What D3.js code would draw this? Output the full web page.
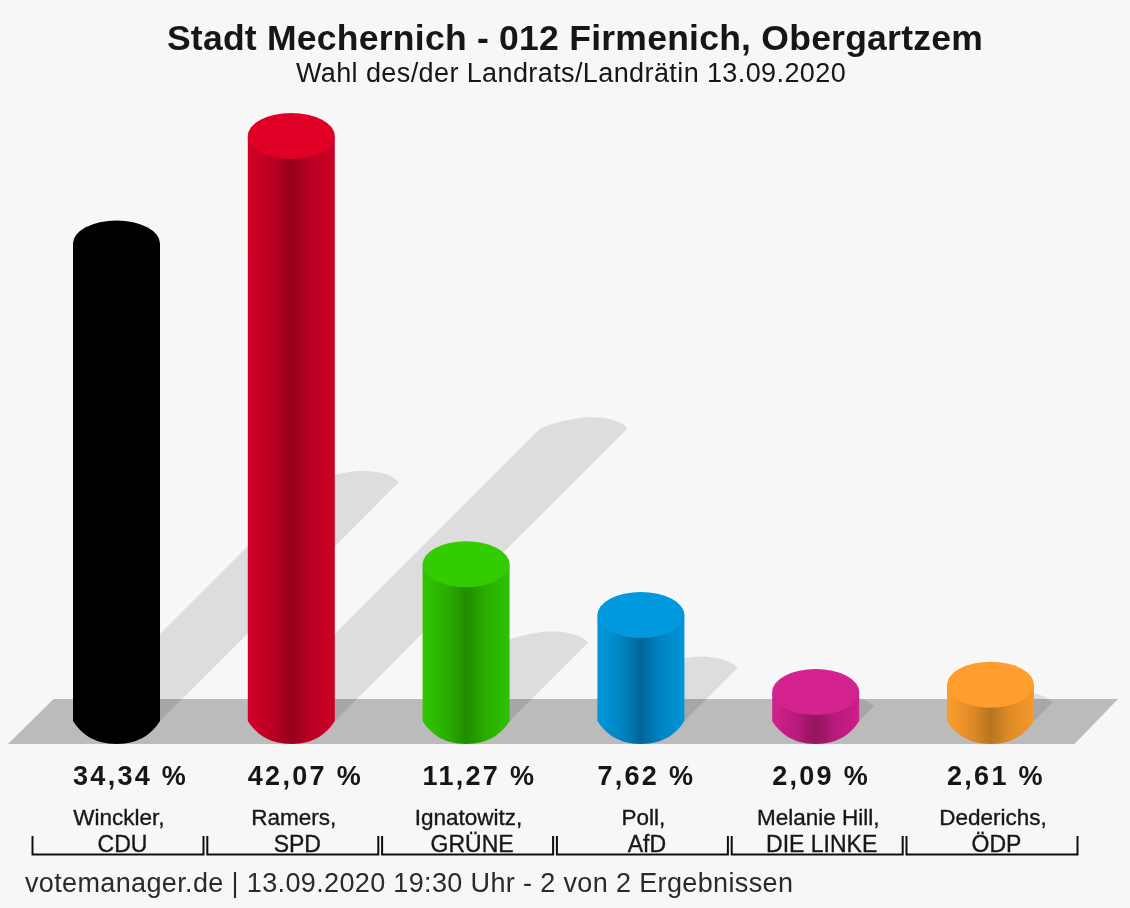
<!DOCTYPE html>
<html><head><meta charset="utf-8">
<script src="https://cdn.jsdelivr.net/npm/d3@7"></script>
<style>html,body{margin:0;padding:0;background:#f7f7f7}svg{display:block}text{font-family:"Liberation Sans",Arial,sans-serif;fill:#151515}</style>
</head><body><div id="chart"></div>
<script>
const names=["Winckler,","Ramers,","Ignatowitz,","Poll,","Melanie Hill,","Dederichs,"];
const parties=["CDU","SPD","GRÜNE","AfD","DIE LINKE","ÖDP"];
const values=[34.34,42.07,11.27,7.62,2.09,2.61];
const labels=["34,34 %","42,07 %","11,27 %","7,62 %","2,09 %","2,61 %"];
const capColors=["#000000","#e00027","#33cc00","#0099dd","#d4228f","#ff9e2e"];
const sideColors=["#000000","#d00026","#30c400","#0097db","#d0218c","#f99c2d"];
const darkColors=["#000000","#96001c","#228c00","#00659a","#93145f","#b8751f"];
const title="Stadt Mechernich - 012 Firmenich, Obergartzem";
const subtitle="Wahl des/der Landrats/Landrätin 13.09.2020";
const footer="votemanager.de | 13.09.2020 19:30 Uhr - 2 von 2 Ergebnissen";

const W=1130,H=908,base=721,rx=43.5,ry=23;
const svg=d3.select("#chart").append("svg").attr("width",W).attr("height",H);
const x=d3.scalePoint().domain(d3.range(6)).range([116.5,990.5]);
const y=d3.scaleLinear().domain([0,42.07]).range([base,136]);
const defs=svg.append("defs");
defs.append("filter").attr("id","soft").append("feGaussianBlur").attr("stdDeviation",0.6);
values.forEach((v,i)=>{
  const g=defs.append("linearGradient").attr("id","g"+i);
  const mix=d3.interpolateRgb(sideColors[i],darkColors[i]);
  [[0,0],[0.08,0.08],[0.3,0.45],[0.5,1],[0.56,0.85],[0.72,0.4],[1,0.05]]
   .forEach(s=>g.append("stop").attr("offset",s[0]).attr("stop-color",mix(s[1])));
});
svg.append("rect").attr("width",W).attr("height",H).attr("fill","#f7f7f7");
const art=svg.append("g").attr("filter","url(#soft)");
art.append("path").attr("fill","#bbbbbb")
  .attr("d",d3.line()([[8,744],[1074.5,744],[1118,699],[53.6,699]])+"Z");
art.selectAll(".shadow").data(values).join("path").attr("class","shadow")
  .attr("fill","rgba(0,0,0,0.105)")
  .attr("d",(v,i)=>{
    const d=(base-y(v))/2,c=x(i),l=c-rx+d,r=c+rx+d,t=base-d;
    return `M${c-rx},${base}L${l},${t}C${l+22},${t-9} ${l+48},${t-13} ${l+58},${t-11}`+
           `C${l+72},${t-10} ${r-4},${t-6} ${r},${t}L${c+rx},${base}Z`;
  });
art.selectAll(".side").data(values).join("path").attr("class","side")
  .attr("fill",(v,i)=>`url(#g${i})`)
  .attr("d",(v,i)=>{const c=x(i);
    return `M${c-rx},${y(v)}L${c-rx},${base}C${c-rx+7},${base+11} ${c-24},${base+ry} ${c},${base+ry}`+
           `C${c+24},${base+ry} ${c+rx-7},${base+11} ${c+rx},${base}L${c+rx},${y(v)}Z`;});
art.selectAll(".cap").data(values).join("ellipse").attr("class","cap")
  .attr("cx",(v,i)=>x(i)).attr("cy",v=>y(v)).attr("rx",rx).attr("ry",ry)
  .attr("fill",(v,i)=>capColors[i]);
art.selectAll(".bracket").data(values).join("path").attr("class","bracket")
  .attr("fill","none").attr("stroke","#111").attr("stroke-width",2)
  .attr("d",(v,i)=>{const c=x(i)+1.5;
    return `M${c-85.5},836V854.5H${c+85.5}V836`;});
const txt=svg.append("g").attr("filter","url(#soft)");
txt.append("text").attr("x",575).attr("y",49.5).attr("text-anchor","middle")
  .attr("font-size",35.5).attr("font-weight","bold").attr("letter-spacing",0.25).text(title);
txt.append("text").attr("x",571).attr("y",82).attr("text-anchor","middle")
  .attr("font-size",27).attr("letter-spacing",0.4).text(subtitle);
txt.selectAll(".val").data(labels).join("text").attr("class","val")
  .attr("x",(d,i)=>x(i)-rx).attr("y",785)
  .attr("font-size",27).attr("font-weight","bold").attr("letter-spacing",2.3).text(d=>d);
txt.selectAll(".nm").data(names).join("text").attr("class","nm")
  .attr("x",(d,i)=>x(i)+2.5).attr("y",825).attr("text-anchor","middle")
  .attr("font-size",22.5).attr("stroke","#1a1a1a").attr("stroke-width",0.35).text(d=>d);
txt.selectAll(".pt").data(parties).join("text").attr("class","pt")
  .attr("x",(d,i)=>x(i)+6).attr("y",851.5).attr("text-anchor","middle")
  .attr("font-size",23).attr("stroke","#1a1a1a").attr("stroke-width",0.35).text(d=>d);
txt.append("text").attr("x",25).attr("y",892).attr("font-size",27).attr("letter-spacing",0.36).style("fill","#2a2a2a").text(footer);
</script></body></html>
